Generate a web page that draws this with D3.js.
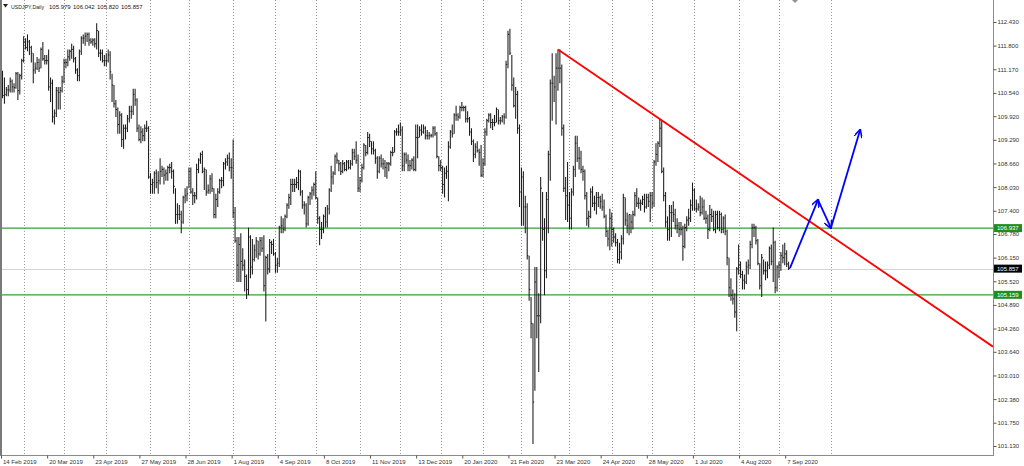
<!DOCTYPE html>
<html><head><meta charset="utf-8">
<script src="https://cdn.jsdelivr.net/npm/d3@7"></script>
<style>
html,body{margin:0;padding:0;background:#fff;}
svg{display:block;font-family:"Liberation Sans",Arial,sans-serif;}
</style></head><body>
<svg id="c" width="1024" height="466"></svg>
<script>
// ---- data (daily USDJPY bars, index 0 = 14 Feb 2019) ----
const highs=[
111.13,110.95,110.70,110.75,110.95,110.90,110.80,111.10,111.10,111.05,
111.45,112.05,112.00,112.10,111.95,111.80,111.60,111.35,111.50,111.45,
111.75,111.90,111.55,111.55,111.70,110.95,110.90,110.10,110.70,110.70,
110.70,111.00,111.45,111.45,111.70,111.70,111.85,111.80,111.50,111.20,
111.70,112.05,112.10,112.15,112.15,112.15,112.00,112.00,112.00,112.40,
112.20,111.70,111.70,111.55,111.60,111.70,111.65,111.05,110.75,110.35,
110.15,110.05,110.00,109.70,109.70,109.95,110.20,110.20,110.65,110.65,
110.40,109.70,109.65,109.60,109.70,109.80,109.65,108.40,108.25,108.45,
108.50,108.45,108.80,108.60,108.55,108.50,108.60,108.65,108.70,108.50,
108.00,107.60,107.55,107.40,107.80,108.00,108.05,108.55,108.55,108.00,
107.90,108.65,108.80,108.95,109.00,108.55,108.50,108.10,108.35,108.40,
108.00,107.85,108.00,108.25,108.30,108.70,108.80,108.90,108.95,108.80,
109.30,107.50,106.70,106.70,106.80,106.40,106.10,105.70,106.95,106.75,
106.65,106.50,106.70,106.60,106.70,106.70,106.75,106.20,106.25,106.65,
106.60,106.65,106.30,106.15,107.00,107.25,107.20,107.30,107.60,107.85,
108.25,108.25,108.25,108.30,108.50,108.48,107.95,107.65,107.60,107.80,
107.90,108.05,108.15,108.45,107.75,107.25,107.10,107.30,107.50,107.55,
108.00,108.60,108.45,108.90,108.95,108.75,108.70,108.75,108.70,108.75,
108.75,108.75,109.05,109.05,109.25,108.90,108.30,108.65,109.20,109.15,
109.50,109.45,109.25,109.25,109.05,108.85,108.85,108.90,108.80,108.75,
108.70,108.70,109.00,109.10,109.55,109.60,109.70,109.75,109.65,108.95,
108.95,108.90,108.75,108.80,108.85,109.70,109.70,109.65,109.70,109.70,
109.65,109.55,109.50,109.45,109.65,109.65,109.50,108.85,108.75,108.60,
108.55,108.60,109.25,109.55,109.70,110.00,110.20,110.00,110.20,110.30,
110.20,110.20,110.05,109.90,109.60,109.30,109.20,109.25,109.05,109.15,
108.80,109.60,109.85,110.00,110.00,109.85,109.95,110.15,110.10,109.90,
109.95,110.00,111.40,112.20,112.25,111.55,110.95,110.70,110.60,109.70,
108.55,108.45,107.80,107.60,106.20,105.10,104.40,105.90,105.90,105.20,
108.30,107.90,107.20,107.90,109.00,110.90,111.60,111.00,111.60,111.70,
111.70,111.30,109.70,108.30,108.70,107.90,108.00,108.60,109.40,109.40,
109.10,109.00,108.60,108.50,107.90,107.40,108.00,108.05,107.80,107.90,
107.90,107.80,107.85,107.70,107.30,106.90,107.45,107.35,106.95,106.80,
106.65,106.55,106.75,107.85,107.75,107.35,107.30,107.30,107.40,107.90,
108.00,107.75,107.70,107.80,107.85,107.85,107.85,107.90,107.90,108.75,
109.20,109.25,109.85,109.80,108.55,107.90,107.25,107.55,107.55,107.65,
107.45,107.20,107.10,107.10,107.00,107.05,107.25,107.45,107.70,108.15,
108.00,107.70,107.60,107.80,107.75,107.70,107.40,107.30,107.55,107.45,
107.40,107.40,107.40,107.40,107.35,107.25,107.30,106.90,106.15,105.60,
105.30,105.20,105.90,106.50,106.05,105.80,105.70,106.05,106.10,106.60,
107.05,107.05,107.00,106.65,106.00,106.25,106.10,106.05,106.05,106.45,
106.50,106.95,106.60,105.95,106.05,106.30,106.50,106.55,106.35,106.04];
const lows=[
110.40,110.25,110.45,110.45,110.55,110.55,110.55,110.65,110.35,110.50,
110.90,111.35,111.70,111.65,111.55,111.35,110.80,111.05,111.15,111.10,
111.20,111.40,111.30,111.30,110.60,110.30,109.75,109.70,109.90,110.10,
110.10,110.55,110.80,111.20,111.25,111.40,111.45,111.35,111.05,110.85,
110.85,111.55,111.85,111.80,111.90,111.80,111.85,111.80,111.75,111.70,
111.50,111.40,111.35,111.25,111.25,111.35,110.90,110.30,110.15,109.90,
109.45,109.45,109.10,109.05,109.30,109.50,109.75,109.85,109.95,110.20,
109.50,109.25,109.20,109.25,109.25,109.50,108.25,107.85,107.85,107.85,
108.00,107.85,108.10,108.30,108.10,108.20,108.20,108.40,108.25,107.85,
107.05,107.05,107.15,106.80,107.05,107.60,107.65,108.00,107.85,107.55,
107.60,107.70,108.40,108.65,108.40,107.95,107.80,107.85,107.85,107.90,
107.20,107.20,107.50,107.85,108.00,108.05,108.50,108.60,108.45,108.25,
107.20,106.55,105.50,105.50,105.50,105.80,105.25,105.05,105.15,105.60,
105.70,106.05,106.15,106.10,106.20,106.30,105.25,104.45,105.70,105.75,
106.25,106.20,105.75,105.75,105.90,106.80,106.80,106.85,107.20,107.45,
107.55,107.90,107.90,108.00,107.95,107.80,107.45,107.30,106.95,107.00,
107.55,107.70,107.80,107.70,107.05,106.48,106.65,106.80,106.95,106.95,
107.30,107.90,108.10,108.35,108.65,108.45,108.35,108.40,108.45,108.45,
108.50,108.50,108.60,108.75,108.65,107.90,107.90,108.15,108.50,108.85,
108.90,109.10,108.90,108.90,108.65,108.25,108.40,108.55,108.50,108.30,
108.25,108.45,108.60,108.85,108.95,109.40,109.40,109.40,108.45,108.45,
108.65,108.45,108.45,108.50,108.45,108.45,108.80,109.35,109.40,109.45,
109.30,109.30,109.30,109.35,109.35,109.40,108.80,108.45,108.45,107.85,
107.75,108.25,107.65,109.05,109.35,109.45,109.80,109.80,109.85,110.05,
110.05,109.75,109.75,109.40,109.15,108.70,108.80,108.95,108.60,108.30,
108.30,108.60,109.40,109.75,109.60,109.55,109.65,109.75,109.70,109.70,
109.75,109.70,109.85,111.20,111.55,110.60,110.15,109.85,109.45,107.50,
107.00,107.00,106.80,106.10,105.00,104.00,101.18,102.60,104.00,103.10,
104.40,106.60,105.15,105.60,106.80,108.20,109.80,110.30,109.70,110.60,
110.80,109.40,107.90,107.15,107.10,106.90,106.90,107.80,108.30,108.70,
108.50,108.40,108.20,107.70,107.00,106.95,107.20,107.50,107.40,107.30,
107.50,107.45,107.40,107.20,106.70,106.45,106.35,106.45,106.55,106.45,
106.00,105.99,106.10,106.50,107.00,106.80,106.75,106.80,106.90,107.25,
107.50,107.45,107.40,107.55,107.35,107.45,107.50,107.10,107.45,107.50,
108.60,108.70,109.10,108.40,107.65,106.95,106.60,106.60,106.70,107.10,
106.90,106.80,106.70,106.75,106.07,106.40,106.85,107.00,107.10,107.40,
107.40,107.35,107.40,107.25,107.30,107.15,107.05,106.65,106.85,107.10,
106.85,106.80,106.90,106.85,106.80,106.80,106.75,105.95,105.10,105.00,
104.90,104.55,104.19,105.70,105.60,105.30,105.30,105.45,105.70,105.85,
106.40,106.70,106.50,105.95,105.30,105.10,105.70,105.55,105.60,105.85,
105.95,105.50,105.20,105.25,105.60,105.80,106.00,105.95,105.90,105.82];
const closes=[
110.47,110.50,110.62,110.62,110.85,110.70,110.68,111.05,110.60,111.00,
111.40,111.90,111.75,111.90,111.75,111.60,111.15,111.20,111.35,111.20,
111.70,111.45,111.40,111.40,110.70,110.80,109.90,110.00,110.60,110.55,
110.60,110.85,111.35,111.35,111.50,111.65,111.70,111.45,111.15,111.00,
111.65,112.00,112.00,112.05,112.10,111.95,111.90,111.95,111.85,112.20,
111.60,111.60,111.40,111.40,111.40,111.55,111.10,110.75,110.25,110.10,
109.70,109.95,109.30,109.60,109.60,109.85,110.05,110.05,110.50,110.35,
109.60,109.30,109.50,109.40,109.60,109.60,108.30,108.10,108.15,108.40,
108.15,108.20,108.45,108.50,108.35,108.40,108.55,108.55,108.45,108.05,
107.30,107.30,107.30,107.10,107.75,107.80,107.85,108.45,107.90,107.80,
107.80,108.50,108.75,108.90,108.45,108.50,107.90,107.95,108.25,108.00,
107.30,107.70,107.90,108.20,108.20,108.65,108.70,108.80,108.55,108.55,
107.35,106.60,105.95,106.50,106.05,105.95,105.65,105.30,106.70,105.90,
106.10,106.35,106.60,106.25,106.60,106.40,105.40,106.15,105.85,106.55,
106.50,106.25,105.95,106.00,106.95,107.00,106.90,107.25,107.55,107.75,
108.10,108.10,108.10,108.15,108.45,107.90,107.55,107.55,107.05,107.75,
107.85,107.95,108.10,107.75,107.20,106.90,106.90,107.25,107.10,107.45,
107.95,108.30,108.40,108.85,108.75,108.65,108.45,108.65,108.50,108.70,
108.55,108.65,108.95,108.85,108.75,108.00,108.20,108.55,109.15,108.95,
109.35,109.25,109.05,109.00,108.80,108.45,108.80,108.65,108.65,108.55,
108.65,108.65,108.95,108.95,109.50,109.50,109.50,109.55,108.60,108.90,
108.75,108.60,108.60,108.75,108.50,109.35,109.35,109.55,109.50,109.60,
109.40,109.40,109.40,109.40,109.60,109.45,108.85,108.60,108.55,108.10,
108.40,108.45,109.10,109.50,109.45,109.95,109.95,109.90,110.15,110.15,
110.15,109.85,109.85,109.50,109.25,108.90,109.10,109.00,108.95,108.35,
108.65,109.50,109.80,109.95,109.75,109.75,109.75,110.10,109.80,109.80,
109.90,109.90,111.30,112.10,111.60,110.75,110.20,110.50,109.60,107.90,
108.30,107.50,107.50,106.20,105.30,104.40,102.30,105.50,104.60,104.60,
108.00,106.90,105.80,107.70,108.90,110.80,110.80,110.70,111.20,111.20,
111.20,109.60,108.00,107.80,107.55,107.20,107.90,108.50,109.20,108.80,
108.80,108.50,108.45,107.80,107.20,107.25,107.90,107.60,107.60,107.75,
107.75,107.65,107.50,107.25,106.85,106.65,107.20,106.90,106.70,106.55,
106.10,106.30,106.65,107.75,107.15,107.00,107.30,107.10,107.30,107.80,
107.60,107.60,107.60,107.70,107.50,107.75,107.65,107.80,107.60,108.70,
108.90,109.20,109.60,108.45,107.80,107.10,106.90,107.35,107.35,107.30,
107.00,107.00,106.90,106.90,106.45,106.95,107.15,107.20,107.55,107.95,
107.45,107.45,107.50,107.35,107.50,107.20,107.20,106.90,107.30,107.25,
106.90,107.30,106.95,107.30,106.90,107.20,106.85,106.15,105.35,105.15,
105.05,104.70,105.85,105.95,105.70,105.55,105.50,105.90,105.95,106.50,
106.95,106.95,106.60,106.00,105.40,106.15,105.80,105.80,105.95,106.40,
106.05,106.55,105.35,105.90,105.95,106.20,106.15,106.25,105.98,105.86];

const dateLabels=["14 Feb 2019","20 Mar 2019","23 Apr 2019","27 May 2019","28 Jun 2019","1 Aug 2019",
"4 Sep 2019","8 Oct 2019","11 Nov 2019","13 Dec 2019","20 Jan 2020","21 Feb 2020","23 Mar 2020",
"24 Apr 2020","28 May 2020","1 Jul 2020","4 Aug 2020","7 Sep 2020"];
const dateLabelIdx=[0,24,48,72,96,120,144,168,192,216,240,264,288,312,336,360,384,408];
const monthStartIdx=[11,32,54,77,97,120,142,163,186,207,228,250,270,295,317,338,360,383,404,431];
const priceTicks=[112.430,111.800,111.170,110.540,109.920,109.290,108.660,108.030,107.400,106.780,
106.150,105.520,104.890,104.260,103.640,103.010,102.380,101.750,101.130];
const levelPrices=[106.937,105.159];
const bidPrice=105.857;
const trendAnchors=[[289,111.70],[342,109.845]];
const forecastPath=[[409.7,105.87],[424.3,107.69],[431,106.94],[446.2,109.55]];
const symbolTitle="USDJPY,Daily";
const lastOHLC=["105.979","106.042","105.820","105.857"];

// ---- layout ----
const plotL=2, plotR=993, plotB=455;
const svg=d3.select("#c");
const x=d3.scaleLinear().domain([0,409]).range([2.5,2.5+409*1.922]);
const y=d3.scaleLinear().domain([101.13,112.43]).range([446,22]);

svg.append("defs").append("clipPath").attr("id","plot")
  .append("rect").attr("x",plotL).attr("y",0).attr("width",plotR-plotL).attr("height",plotB);
const g=svg.append("g").attr("clip-path","url(#plot)");

// vertical dashed grid
g.selectAll("line.grid").data(monthStartIdx).join("line")
  .attr("x1",d=>Math.round(x(d))+0.5).attr("x2",d=>Math.round(x(d))+0.5)
  .attr("y1",0).attr("y2",plotB)
  .attr("stroke","#9a9a9a").attr("stroke-width",1).attr("stroke-dasharray","1,2");

// bid line
g.append("line").attr("x1",plotL).attr("x2",plotR)
  .attr("y1",Math.round(y(bidPrice))+0.5).attr("y2",Math.round(y(bidPrice))+0.5)
  .attr("stroke","#d4d4d4").attr("stroke-width",1);

// horizontal levels
g.selectAll("line.lvl").data(levelPrices).join("line")
  .attr("x1",plotL).attr("x2",plotR).attr("y1",d=>y(d)).attr("y2",d=>y(d))
  .attr("stroke","#35a035").attr("stroke-width",1.3);

// bars
const idx=d3.range(closes.length);
g.append("g").selectAll("line").data(idx).join("line")
  .attr("x1",i=>x(i)).attr("x2",i=>x(i))
  .attr("y1",i=>y(highs[i])).attr("y2",i=>y(lows[i]))
  .attr("stroke","#1a1a1a").attr("stroke-width",1.05);
g.append("g").selectAll("line").data(idx).join("line")
  .attr("x1",i=>x(i)).attr("x2",i=>x(i)+1.2)
  .attr("y1",i=>y(closes[i])).attr("y2",i=>y(closes[i]))
  .attr("stroke","#1a1a1a").attr("stroke-width",1);

// trend line (ray to right edge)
const [a1,a2]=trendAnchors;
const slope=(a2[1]-a1[1])/(a2[0]-a1[0]);
const endIdx=x.invert(plotR);
g.append("line")
  .attr("x1",x(a1[0])).attr("y1",y(a1[1]))
  .attr("x2",x(endIdx)).attr("y2",y(a1[1]+slope*(endIdx-a1[0])))
  .attr("stroke","#ff0000").attr("stroke-width",1.8);

// forecast arrows
const defs=svg.select("defs");
defs.append("marker").attr("id","ah").attr("viewBox","0 0 10 10").attr("refX",9).attr("refY",5)
  .attr("markerWidth",9).attr("markerHeight",8).attr("markerUnits","userSpaceOnUse").attr("orient","auto")
  .append("path").attr("d","M0,0 L10,5 L0,10").attr("fill","none").attr("stroke","#0000ff").attr("stroke-width",2);
const segs=d3.pairs(forecastPath);
svg.append("g").selectAll("line").data(segs).join("line")
  .attr("x1",d=>x(d[0][0])).attr("y1",d=>y(d[0][1]))
  .attr("x2",d=>x(d[1][0])).attr("y2",d=>y(d[1][1]))
  .attr("stroke","#0000ff").attr("stroke-width",1.8).attr("marker-end","url(#ah)");

// frame
svg.append("line").attr("x1",1).attr("x2",1).attr("y1",0).attr("y2",plotB).attr("stroke","#7a7a7a").attr("stroke-width",2);
svg.append("line").attr("x1",0).attr("x2",plotR).attr("y1",plotB+0.5).attr("y2",plotB+0.5).attr("stroke","#8a8a8a");
svg.append("line").attr("x1",plotR+0.5).attr("x2",plotR+0.5).attr("y1",0).attr("y2",plotB+1).attr("stroke","#8a8a8a");

// right axis
const ya=svg.append("g").attr("transform",`translate(${plotR+0.5},0)`)
  .call(d3.axisRight(y).tickValues(priceTicks).tickFormat(d3.format(".3f")).tickSize(3).tickPadding(1));
ya.select(".domain").remove();
ya.selectAll("line").attr("stroke","#555");
ya.selectAll("text").attr("font-size",6).attr("fill","#333").attr("font-family","Liberation Sans, Arial, sans-serif");

// bottom axis
const xa=svg.append("g").attr("transform",`translate(0,${plotB+0.5})`)
  .call(d3.axisBottom(x).tickValues(dateLabelIdx).tickFormat((d,i)=>dateLabels[i]).tickSize(3).tickPadding(1));
xa.select(".domain").remove();
xa.selectAll("line").attr("stroke","#555").attr("transform","translate(-1.5,0)");
xa.selectAll("text").attr("font-size",6).attr("fill","#333").attr("text-anchor","start")
  .attr("font-family","Liberation Sans, Arial, sans-serif");

// price boxes
const boxes=[{p:levelPrices[0],fill:"#1e8e1e"},{p:bidPrice,fill:"#000"},{p:levelPrices[1],fill:"#1e8e1e"}];
const bx=svg.append("g").selectAll("g").data(boxes).join("g")
  .attr("transform",d=>`translate(${plotR+1},${y(d.p)})`);
bx.append("rect").attr("x",0).attr("y",-4).attr("width",28).attr("height",8).attr("fill",d=>d.fill);
bx.append("text").attr("x",3).attr("y",2.2).attr("font-size",6).attr("fill","#fff")
  .text(d=>d3.format(".3f")(d.p));

// title
svg.append("path").attr("d","M3,4 L8,4 L5.5,7.5 Z").attr("fill","#222");
svg.append("text").attr("x",11).attr("y",8.5).attr("font-size",6).attr("fill","#222")
  .attr("textLength",33).attr("lengthAdjust","spacingAndGlyphs").text(symbolTitle);
svg.append("g").selectAll("text").data(lastOHLC).join("text")
  .attr("x",(d,i)=>49+i*24).attr("y",8.5).attr("font-size",6).attr("fill","#222").text(d=>d);

// chart shift marker
svg.append("path").attr("d","M792,0 L798,0 L795,3 Z").attr("fill","#909090");
</script>
</body></html>
